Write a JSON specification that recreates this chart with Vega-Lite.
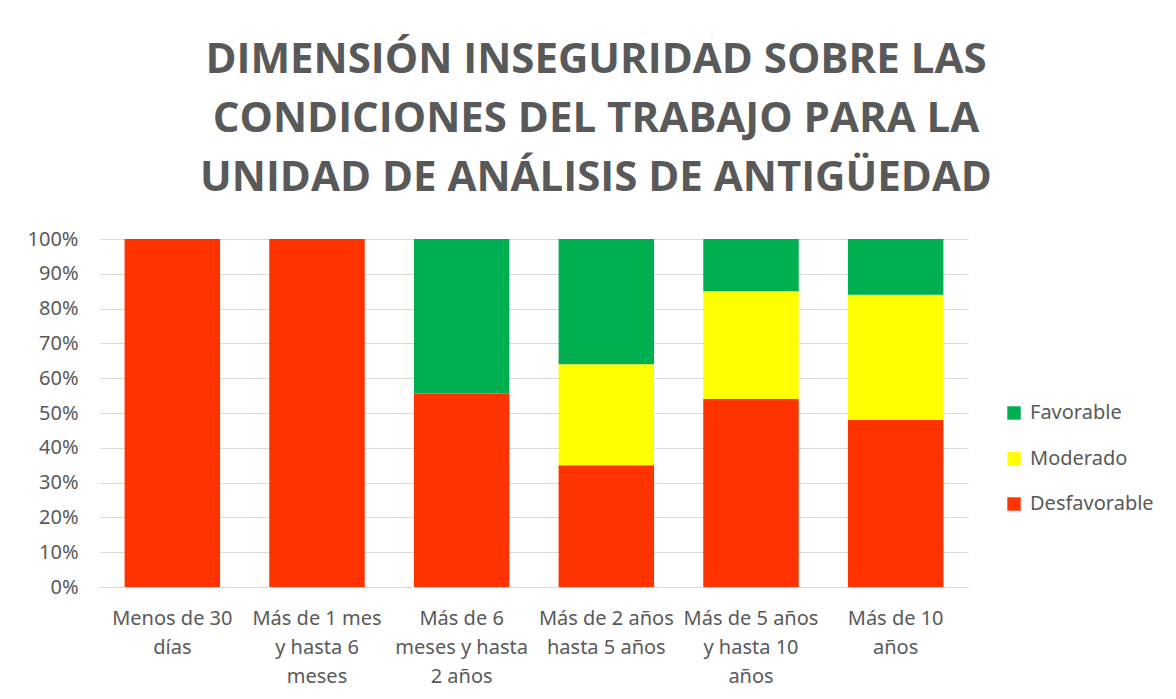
{
  "$schema": "https://vega.github.io/schema/vega-lite/v6.json",
  "width": 868,
  "height": 348,
  "autosize": {"type": "none"},
  "padding": {"left": 100, "top": 239, "right": 208, "bottom": 112},
  "background": "white",
  "title": {
    "text": ["DIMENSIÓN INSEGURIDAD SOBRE LAS", "CONDICIONES DEL TRABAJO PARA LA", "UNIDAD DE ANÁLISIS DE ANTIGÜEDAD"],
    "font": "Open Sans",
    "fontSize": 42,
    "fontWeight": "bold",
    "color": "#595959",
    "lineHeight": 59,
    "anchor": "middle",
    "dx": 62,
    "offset": -4,
    "baseline": "alphabetic"
  },
  "data": {
    "values": [
      {"cat": "Menos de 30|días", "ord": 1, "nivel": "Desfavorable", "k": 1, "v": 100},
      {"cat": "Más de 1 mes|y hasta 6|meses", "ord": 2, "nivel": "Desfavorable", "k": 1, "v": 100},
      {"cat": "Más de 6|meses y hasta|2 años", "ord": 3, "nivel": "Desfavorable", "k": 1, "v": 55.6},
      {"cat": "Más de 6|meses y hasta|2 años", "ord": 3, "nivel": "Favorable", "k": 3, "v": 44.4},
      {"cat": "Más de 2 años|hasta 5 años", "ord": 4, "nivel": "Desfavorable", "k": 1, "v": 35},
      {"cat": "Más de 2 años|hasta 5 años", "ord": 4, "nivel": "Moderado", "k": 2, "v": 29},
      {"cat": "Más de 2 años|hasta 5 años", "ord": 4, "nivel": "Favorable", "k": 3, "v": 36},
      {"cat": "Más de 5 años|y hasta 10|años", "ord": 5, "nivel": "Desfavorable", "k": 1, "v": 54},
      {"cat": "Más de 5 años|y hasta 10|años", "ord": 5, "nivel": "Moderado", "k": 2, "v": 31},
      {"cat": "Más de 5 años|y hasta 10|años", "ord": 5, "nivel": "Favorable", "k": 3, "v": 15},
      {"cat": "Más de 10|años", "ord": 6, "nivel": "Desfavorable", "k": 1, "v": 48},
      {"cat": "Más de 10|años", "ord": 6, "nivel": "Moderado", "k": 2, "v": 36},
      {"cat": "Más de 10|años", "ord": 6, "nivel": "Favorable", "k": 3, "v": 16}
    ]
  },
  "mark": {"type": "bar"},
  "encoding": {
    "x": {
      "field": "cat",
      "type": "nominal",
      "sort": {"field": "ord"},
      "title": null,
      "scale": {"paddingInner": 0.34, "paddingOuter": 0.17},
      "axis": {
        "labelExpr": "split(datum.label, '|')",
        "labelAngle": 0,
        "labelFont": "Noto Sans",
        "labelFontSize": 20,
        "labelColor": "#595959",
        "labelLineHeight": 29,
        "labelPadding": 21,
        "labelBaseline": "top",
        "labelOverlap": false,
        "ticks": false,
        "domainColor": "#d9d9d9",
        "domainWidth": 1,
        "labelLimit": 200
      }
    },
    "y": {
      "field": "v",
      "type": "quantitative",
      "stack": "normalize",
      "title": null,
      "scale": {"domain": [0, 1]},
      "axis": {
        "format": ".0%",
        "values": [0, 0.1, 0.2, 0.3, 0.4, 0.5, 0.6, 0.7, 0.8, 0.9, 1],
        "labelOverlap": false,
        "labelFont": "Noto Sans",
        "labelFontSize": 20,
        "labelColor": "#595959",
        "labelPadding": 22,
        "ticks": false,
        "domain": false,
        "gridColor": "#d9d9d9",
        "gridWidth": 1
      }
    },
    "color": {
      "field": "nivel",
      "type": "nominal",
      "scale": {
        "domain": ["Favorable", "Moderado", "Desfavorable"],
        "range": ["#00B050", "#FFFF00", "#FF3300"]
      },
      "legend": {
        "title": null,
        "orient": "none",
        "legendX": 904,
        "legendY": 164,
        "symbolType": "square",
        "symbolSize": 180,
        "symbolStrokeWidth": 0,
        "labelFont": "Noto Sans",
        "labelFontSize": 20,
        "labelColor": "#595959",
        "labelOffset": 6,
        "rowPadding": 25.5
      }
    },
    "order": {"field": "k", "type": "quantitative"}
  },
  "config": {
    "view": {"stroke": null}
  }
}
